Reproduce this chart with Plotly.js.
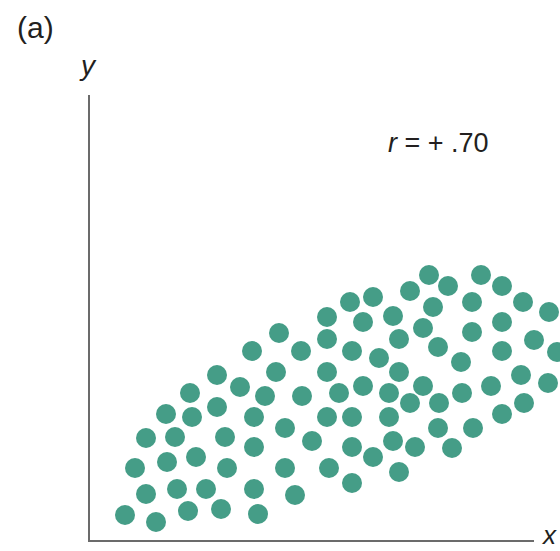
<!DOCTYPE html>
<html>
<head>
<meta charset="utf-8">
<script src="https://cdn.plot.ly/plotly-3.0.1.min.js"></script>
<style>
  html, body { margin: 0; padding: 0; background: #fff; }
  #chart { width: 560px; height: 551px; }
</style>
</head>
<body>
<div id="chart"></div>
<script>
// Scatter of x vs y showing a moderate positive correlation (r = +.70)
const xValues = [
  3.5, 6.6, 9.8, 13.1, 16.8, 5.6, 8.7, 11.6, 16.4, 20.5,
  4.5, 7.7, 10.6, 13.7, 19.5, 5.6, 8.5, 13.5, 16.4, 19.5,
  7.6, 10.2, 12.7, 16.4, 10.0, 15.0, 17.5, 26.2, 30.9, 23.9,
  28.3, 26.2, 22.2, 30.3, 32.5, 36.2, 23.7, 26.2, 29.9, 34.8,
  38.3, 21.2, 24.9, 27.3, 29.9, 32.0, 33.3, 34.9, 37.2, 18.9,
  16.2, 21.1, 18.6, 12.7, 33.9, 35.8, 39.1, 32.0, 28.3, 26.0,
  34.3, 38.2, 23.7, 27.3, 30.3, 33.3, 38.2, 23.7, 26.2, 28.9,
  30.9, 34.8, 37.1, 23.7, 30.9, 41.2, 43.3, 45.9, 41.2, 44.4,
  46.7, 41.2, 43.1, 45.8, 40.1, 43.4, 41.2
];
const yValues = [
  2.5, 1.8, 2.9, 3.1, 2.6, 4.6, 5.1, 5.1, 5.1, 4.5,
  7.2, 7.8, 8.3, 7.2, 7.2, 10.2, 10.3, 10.3, 9.3, 11.2,
  12.6, 12.3, 13.3, 12.3, 14.7, 15.3, 14.4, 5.7, 6.8, 7.2,
  8.3, 9.3, 9.9, 9.9, 9.3, 9.2, 12.3, 12.3, 12.3, 11.2,
  11.2, 14.4, 14.7, 15.4, 14.7, 13.7, 15.4, 13.7, 14.7, 20.7,
  18.9, 18.9, 16.8, 16.5, 26.5, 25.4, 26.5, 24.9, 24.3, 23.8,
  23.3, 23.8, 22.3, 21.8, 22.4, 21.2, 20.8, 20.1, 18.9, 18.2,
  20.1, 19.3, 17.8, 16.8, 16.8, 25.4, 23.8, 22.8, 21.8, 20.0,
  18.8, 18.9, 16.5, 15.7, 15.4, 13.7, 12.6
];
const panelLabel = '(a)';
const xLabel = 'x';
const yLabel = 'y';
const corrLabel = 'r';
const corrValue = '+ .70';

const textColor = '#231f20';
const fontFamily = 'Liberation Sans, Arial, Helvetica, sans-serif';
const axisColor = '#6b6b6b';

const trace = {
  type: 'scatter',
  mode: 'markers',
  x: xValues,
  y: yValues,
  cliponaxis: false,
  hoverinfo: 'skip',
  marker: { size: 20, color: '#459d87', line: { width: 0 } }
};

// Plot area spans x 90..560 px and y 95..540 px (10 px per unit)
const W = 470, H = 445;
function px(x) { return (x - 90) / W; }
function py(y) { return (540 - y) / H; }

const layout = {
  width: 560,
  height: 551,
  margin: { l: 90, r: 0, t: 95, b: 11, pad: 0 },
  paper_bgcolor: '#ffffff',
  plot_bgcolor: '#ffffff',
  showlegend: false,
  xaxis: {
    range: [0, 47],
    showline: false,
    showgrid: false, zeroline: false, showticklabels: false, ticks: ''
  },
  yaxis: {
    range: [0, 44.5],
    showline: true, linecolor: axisColor, linewidth: 2,
    showgrid: false, zeroline: false, showticklabels: false, ticks: ''
  },
  shapes: [
    // x axis stops short of the right edge
    { type: 'line', xref: 'paper', yref: 'paper', x0: px(88), x1: px(534), y0: py(541), y1: py(541),
      line: { color: axisColor, width: 2 } }
  ],
  annotations: [
    { text: panelLabel, xref: 'paper', yref: 'paper', x: px(35), y: py(28),
      xanchor: 'center', yanchor: 'middle', showarrow: false,
      font: { family: fontFamily, size: 30, color: textColor } },
    { text: '<i>' + yLabel + '</i>', xref: 'paper', yref: 'paper', x: px(88), y: py(66),
      xanchor: 'center', yanchor: 'middle', showarrow: false,
      font: { family: fontFamily, size: 28, color: textColor } },
    { text: '<i>' + xLabel + '</i>', xref: 'paper', yref: 'paper', x: px(558), y: py(551),
      xanchor: 'right', yanchor: 'bottom', showarrow: false, borderpad: 0,
      font: { family: fontFamily, size: 26, color: textColor } },
    { text: '<i>' + corrLabel + '</i> = ' + corrValue, xref: 'paper', yref: 'paper',
      x: px(438), y: py(143),
      xanchor: 'center', yanchor: 'middle', showarrow: false,
      font: { family: fontFamily, size: 27, color: textColor } }
  ]
};

Plotly.newPlot('chart', [trace], layout, { staticPlot: true, displayModeBar: false });
</script>
</body>
</html>
